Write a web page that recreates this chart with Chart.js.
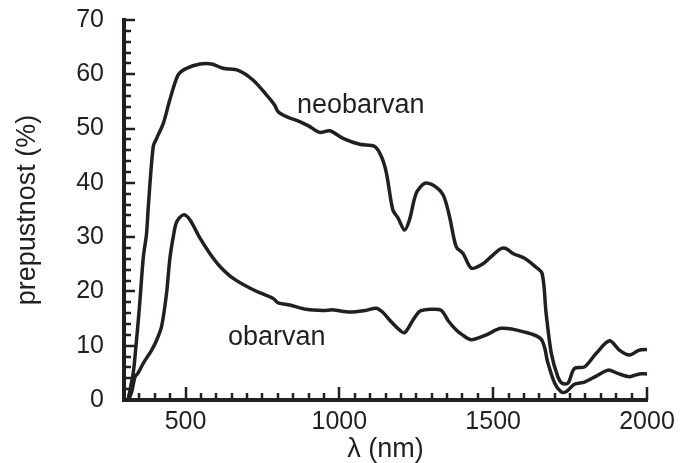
<!DOCTYPE html>
<html>
<head>
<meta charset="utf-8">
<script src="https://cdn.jsdelivr.net/npm/chart.js@4/dist/chart.umd.min.js"></script>
<style>
  body { margin: 0; background: #fff; }
  #wrap { width: 680px; height: 463px; }
</style>
</head>
<body>
<div id="wrap"><canvas id="myChart"></canvas></div>
<script>
// neobarvan (uncoated) sample
const neoNm = [313, 330, 339, 350, 363, 373, 379, 395, 406, 428, 449, 476, 503, 547, 585, 622, 671, 720, 763, 790, 801, 828, 871, 900, 936, 969, 1012, 1066, 1115, 1137, 1153, 1174, 1191, 1212, 1228, 1250, 1277, 1304, 1337, 1358, 1380, 1402, 1429, 1467, 1499, 1526, 1542, 1564, 1602, 1634, 1659, 1672, 1689, 1710, 1724, 1743, 1764, 1797, 1835, 1878, 1910, 1943, 1975, 2000];
const neoVal = [0, 5, 10, 17, 26.4, 30.5, 35.6, 46.7, 48.2, 51, 55.3, 59.9, 61.1, 61.9, 61.9, 61.1, 60.7, 58.9, 56.2, 54.3, 53.1, 52.2, 51.3, 50.5, 49.3, 49.6, 48.2, 47.1, 46.7, 44.8, 41.8, 35, 33.5, 31.3, 33.2, 38.1, 39.9, 39.6, 37.8, 33.8, 28.2, 27, 24.3, 25.1, 26.7, 27.9, 27.9, 27, 26.1, 24.7, 23.3, 16, 8.6, 4.3, 3.1, 3.1, 5.8, 6.1, 8.6, 10.9, 9.2, 8.3, 9.2, 9.3];

// obarvan (coated) sample
const obNm = [315, 325, 336, 346, 363, 390, 406, 422, 438, 449, 460, 471, 493, 514, 547, 579, 612, 655, 720, 785, 801, 839, 893, 947, 980, 1034, 1085, 1120, 1140, 1164, 1190, 1212, 1239, 1260, 1277, 1300, 1331, 1355, 1380, 1400, 1429, 1478, 1526, 1596, 1656, 1678, 1700, 1721, 1737, 1764, 1797, 1835, 1873, 1905, 1943, 1975, 2000];
const obVal = [0, 1.5, 4.3, 5, 6.8, 9.2, 11, 13.5, 19.5, 26, 30, 32.8, 34.1, 33.2, 29.8, 27, 24.6, 22.4, 20.3, 18.7, 17.9, 17.5, 16.7, 16.5, 16.6, 16.2, 16.5, 16.9, 16.2, 14.7, 13.2, 12.4, 14.7, 16.3, 16.6, 16.7, 16.5, 14.5, 12.9, 12, 11.1, 12, 13.2, 12.6, 11.2, 6.8, 3.1, 1.5, 1.5, 2.9, 3.3, 4.4, 5.5, 4.9, 4.3, 4.8, 4.8];

const xTicks = [500, 1000, 1500, 2000];
const yTicks = [0, 10, 20, 30, 40, 50, 60, 70];
const ink = "#231f20";
const fontFam = "'Liberation Sans', Arial, Helvetica, sans-serif";

function toPoints(xs, ys) {
  return xs.map((x, i) => ({ x: x, y: ys[i] }));
}

// inward tick marks, minor and major
const inwardTicks = {
  id: "inwardTicks",
  afterDraw(chart) {
    const ctx = chart.ctx;
    const xs = chart.scales.x, ys = chart.scales.y;
    const area = chart.chartArea;
    ctx.save();
    ctx.strokeStyle = ink;
    ctx.lineWidth = 2.5;
    ctx.beginPath();
    for (let v = 350; v <= 2000; v += 50) {
      const px = Math.round(xs.getPixelForValue(v));
      const len = v % 500 === 0 ? 13 : 7;
      ctx.moveTo(px, area.bottom);
      ctx.lineTo(px, area.bottom - len);
    }
    for (let v = 2; v <= 70; v += 2) {
      const py = Math.round(ys.getPixelForValue(v));
      const len = v % 10 === 0 ? 11 : 7;
      ctx.moveTo(area.left, py);
      ctx.lineTo(area.left + len, py);
    }
    ctx.stroke();

    // curve labels
    ctx.fillStyle = ink;
    ctx.font = "27px " + fontFam;
    ctx.textBaseline = "alphabetic";
    ctx.textAlign = "left";
    ctx.fillText("neobarvan", xs.getPixelForValue(862), ys.getPixelForValue(52.9));
    ctx.fillText("obarvan", xs.getPixelForValue(638), ys.getPixelForValue(10.1));
    ctx.restore();
  },
};

const ctx = document.getElementById("myChart").getContext("2d");
const data = {
  datasets: [
    {
      label: "neobarvan",
      data: toPoints(neoNm, neoVal),
      borderColor: ink,
      borderWidth: 3.5,
      pointRadius: 0,
      fill: false,
      tension: 0.3,
    },
    {
      label: "obarvan",
      data: toPoints(obNm, obVal),
      borderColor: ink,
      borderWidth: 3.5,
      pointRadius: 0,
      fill: false,
      tension: 0.3,
    },
  ],
};
const config = {
  type: "line",
  data: data,
  plugins: [inwardTicks],
  options: {
    responsive: true,
    maintainAspectRatio: false,
    animation: false,
    layout: {
      padding: { left: 0, right: 33, top: 20, bottom: 0 },
    },
    plugins: {
      legend: { display: false },
      tooltip: { enabled: false },
    },
    scales: {
      x: {
        type: "linear",
        min: 300,
        max: 2000,
        afterBuildTicks: (scale) => {
          scale.ticks = xTicks.map((v) => ({ value: v }));
        },
        afterFit: (scale) => {
          scale.height = 63;
          scale.paddingLeft = 0;
          scale.paddingRight = 0;
        },
        grid: { display: false, drawTicks: false },
        border: { display: true, color: ink, width: 4 },
        ticks: {
          color: ink,
          padding: 7,
          maxRotation: 0,
          callback: (v) => String(v),
          font: { size: 25, family: fontFam },
        },
        title: {
          display: true,
          text: "λ (nm)",
          color: ink,
          padding: { top: 0, bottom: -3 },
          font: { size: 27, family: fontFam },
        },
      },
      y: {
        min: 0,
        max: 70,
        afterBuildTicks: (scale) => {
          scale.ticks = yTicks.map((v) => ({ value: v }));
        },
        afterFit: (scale) => {
          scale.width = 124;
          scale.paddingTop = 0;
          scale.paddingBottom = 0;
        },
        grid: { display: false, drawTicks: false },
        border: { display: true, color: ink, width: 4 },
        ticks: {
          color: ink,
          padding: 20,
          callback: (v) => String(v),
          font: { size: 25, family: fontFam },
        },
        title: {
          display: true,
          text: "prepustnost (%)",
          color: ink,
          padding: { top: 11, bottom: 0 },
          font: { size: 27, family: fontFam },
        },
      },
    },
  },
};
const myChart = new Chart(ctx, config);
</script>
</body>
</html>
